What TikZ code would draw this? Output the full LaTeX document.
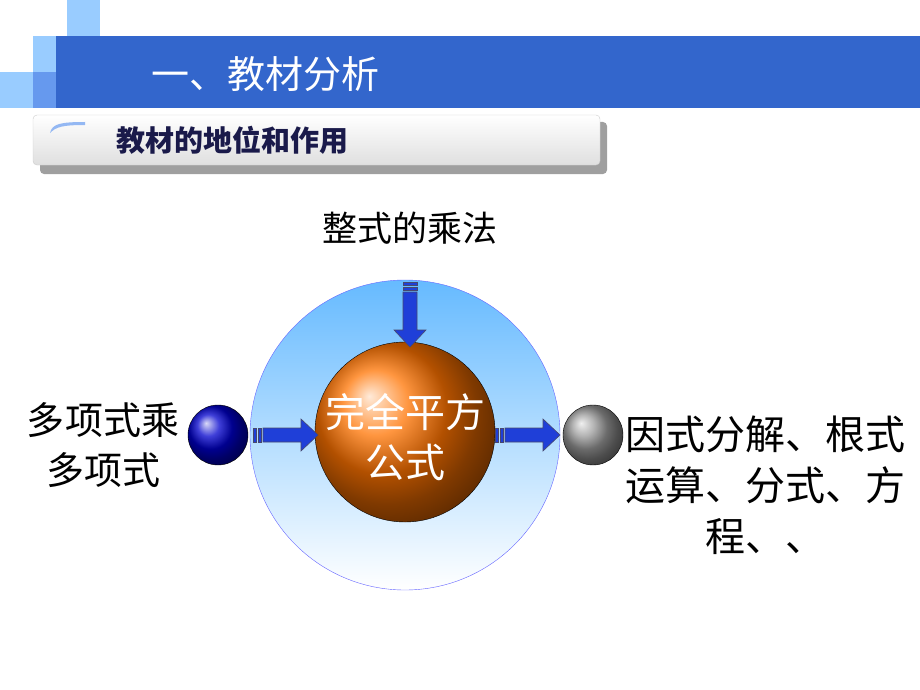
\documentclass[tikz,border=0pt]{standalone}
\usepackage{fontspec}
\setmainfont{Noto Sans CJK SC}
\usetikzlibrary{arrows.meta,shadows}
\definecolor{bannerblue}{HTML}{3366CC}
\definecolor{lightsq}{HTML}{99CCFF}
\definecolor{midsq}{HTML}{6699EE}
\definecolor{arrowblue}{HTML}{1F3FD8}
\definecolor{navy}{HTML}{1A1A4A}
\tikzset{
  fatarrow/.style={draw=navy!80,line width=0.6pt,fill=arrowblue},
  bigtext/.style={font=\fontsize{38}{50}\selectfont,align=center,inner sep=0pt},
}
\begin{document}
\begin{tikzpicture}[x=1pt,y=-1pt]
    \useasboundingbox (0,0) rectangle (920,690);
    % squares and banner
    \fill[lightsq] (67,0) rectangle (100,36);
    \fill[lightsq] (33,36) rectangle (67,72);
    \fill[midsq] (67,36) rectangle (100,72);
    \fill[lightsq] (0,72) rectangle (33,108);
    \fill[bannerblue] (56,36) rectangle (920,108);
    \fill[midsq] (33,72) rectangle (56,108);
    \node[text=white,font=\fontsize{38}{40}\selectfont,anchor=west] (title) at (148,74) {一、教材分析};

    % subtitle box
    \fill[gray!75,rounded corners=4pt] (40,122) rectangle (607,174);
    \shade[top color=white,bottom color=gray!25,draw=gray!40,rounded corners=4pt] (33,115) rectangle (600,165);
    \fill[midsq!70] (50,133) .. controls (52,124) and (60,122) .. (85,122) -- (85,125) .. controls (62,125) and (56,127) .. (50,133);
    \node[text=navy,font=\bfseries\fontsize{29}{30}\selectfont,anchor=west] (sub) at (113,140) {教材的地位和作用};

    % circles
    \shade[top color=blue!45!cyan!60,bottom color=white,draw=blue!60] (405,435) circle (155);
    \shade[ball color=orange!90!red,draw=black] (405,432) circle (90);
    \shade[ball color=blue!80!black,draw=black] (218,435) circle (30);
    \shade[ball color=gray!80,draw=black] (593,435) circle (30);
    \node[bigtext,font=\fontsize{40}{50}\selectfont,text=white] (core) at (405,437) {完全平方\\公式};

    % texts
    \node[bigtext,font=\fontsize{35}{40}\selectfont] (top) at (410,228) {整式的乘法};
    \node[bigtext] (left) at (103,445) {多项式乘\\多项式};
    \node[bigtext,font=\fontsize{40}{51}\selectfont,anchor=north east] (right) at (906,416) {因式分解、根式\\运算、分式、方\\程、、};

    % arrows
    \foreach \x/\y/\r in {253/435/0,495/435/0,410/282/-90}{
      \begin{scope}[shift={(\x,\y)},rotate=\r]
        \fill[fatarrow] (0,-7) rectangle (3,7);
        \fill[fatarrow] (5,-7) rectangle (8,7);
        \fill[fatarrow] (10,-7) -- (48,-7) -- (48,-16) -- (65,0) -- (48,16) -- (48,7) -- (10,7) -- cycle;
      \end{scope}
    }
\end{tikzpicture}
\end{document}
